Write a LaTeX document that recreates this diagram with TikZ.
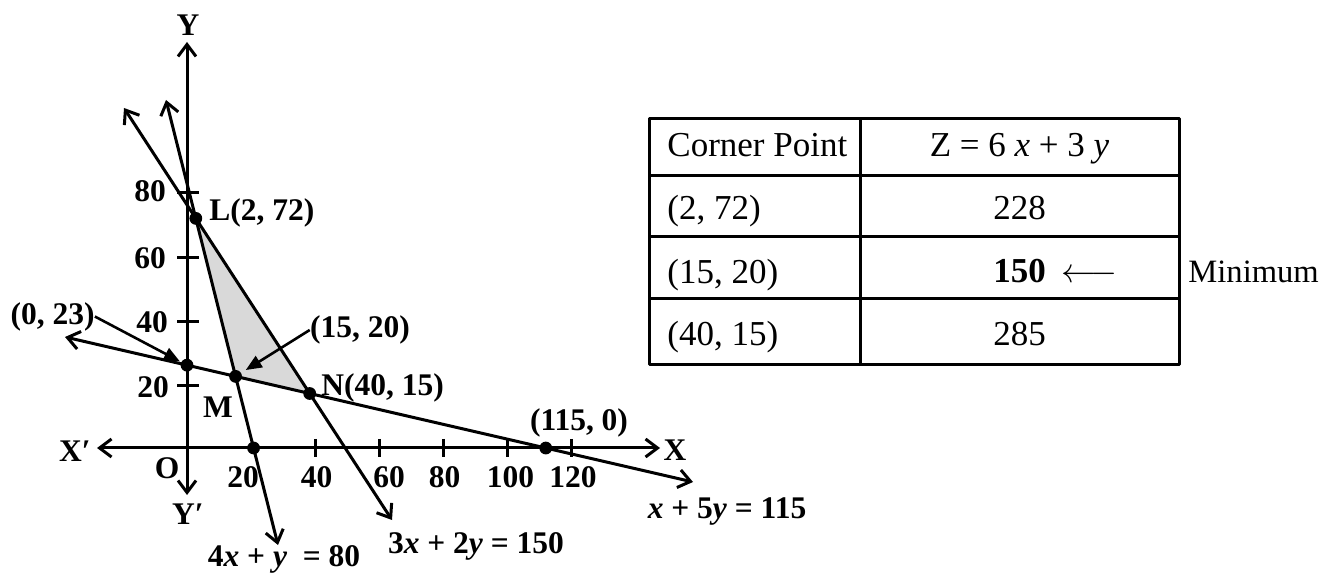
\documentclass[tikz,border=0pt]{standalone}
\usepackage{fontspec}
\setmainfont{Liberation Serif}
\usetikzlibrary{arrows.meta}

\begin{document}
\begin{tikzpicture}[x=0.5pt,y=-0.5pt,line join=round,
  ln/.style={line width=1.5pt},
  twoway/.style={ln,{Straight Barb[length=6pt,width=9pt]}-{Straight Barb[length=6pt,width=9pt]}},
  ptr/.style={line width=1.3pt,-{Triangle[length=8pt,width=6.5pt]}},
  lbl/.style={font=\fontsize{15.75}{18}\selectfont\bfseries,inner sep=0pt},
  cell/.style={font=\fontsize{17.5}{21}\selectfont,inner sep=0pt}]
  \useasboundingbox (0,0) rectangle (1326,576);
  % axes and the three boundary lines
  \coordinate (O) at (187,448);
  \coordinate (XL) at (97,448);
  \coordinate (XR) at (660,448);
  \coordinate (YB) at (187,495);
  \coordinate (YT) at (187,42);
  \coordinate (E1a) at (166,100);
  \coordinate (E1b) at (278,545);
  \coordinate (E2a) at (124,108);
  \coordinate (E2b) at (392,520);
  \coordinate (E3a) at (65,337);
  \coordinate (E3b) at (693,482);
  \coordinate (L) at (intersection of E1a--E1b and E2a--E2b);
  \coordinate (M) at (intersection of E1a--E1b and E3a--E3b);
  \coordinate (N) at (intersection of E2a--E2b and E3a--E3b);
  \coordinate (YCUT) at (intersection of E3a--E3b and YB--YT);
  \coordinate (XCUT1) at (intersection of E1a--E1b and XL--XR);
  \coordinate (XCUT3) at (intersection of E3a--E3b and XL--XR);
  \fill[gray!30] (L) -- (M) -- (N) -- cycle;
  \draw[twoway] (XL) -- (XR);
  \draw[twoway] (YB) -- (YT);
  \draw[twoway] (E1a) -- (E1b);
  \draw[twoway] (E2a) -- (E2b);
  \draw[twoway] (E3a) -- (E3b);
  \draw[ln] (315,439) -- (315,457);
  \draw[ln] (379,439) -- (379,457);
  \draw[ln] (443,439) -- (443,457);
  \draw[ln] (507,439) -- (507,457);
  \draw[ln] (571,439) -- (571,457);
  \draw[ln] (177,386) -- (199,386);
  \draw[ln] (177,322) -- (199,322);
  \draw[ln] (177,258) -- (199,258);
  \draw[ln] (177,193) -- (199,193);
  \fill (L) circle (3.2pt);
  \fill (M) circle (3.2pt);
  \fill (N) circle (3.2pt);
  \fill (YCUT) circle (3.2pt);
  \fill (XCUT1) circle (3.2pt);
  \fill (XCUT3) circle (3.2pt);
  % axis labels
  \node[lbl] (LY) at (188,25) {Y};
  \node[lbl] (LY2) at (188,514) {Y′};
  \node[lbl] (LX2) at (75,451) {X′};
  \node[lbl] (LX) at (675,450) {X};
  \node[lbl] (LO) at (167,468) {O};
  \node[lbl] (TX20) at (243,477.5) {20};
  \node[lbl] (TX40) at (316.5,477.5) {40};
  \node[lbl] (TX60) at (389,477.5) {60};
  \node[lbl] (TX80) at (444.5,477.5) {80};
  \node[lbl] (TX100) at (510.5,477.5) {100};
  \node[lbl] (TX120) at (573,477.5) {120};
  \node[lbl] (TY80) at (150,191.5) {80};
  \node[lbl] (TY60) at (150,258) {60};
  \node[lbl] (TY40) at (152,322) {40};
  \node[lbl] (TY20) at (153,387.5) {20};
  % corner points
  \node[lbl,anchor=west] (LL) at (209,213) {L(2, 72)};
  \node[lbl,anchor=west] (LN) at (321,388) {N(40, 15)};
  \node[lbl] (LM) at (218,407) {M};
  \node[lbl] (L023) at (52.5,316.5) {(0, 23)};
  \node[lbl] (L1520) at (360,330) {(15, 20)};
  \node[lbl] (L1150) at (579,422.5) {(115, 0)};
  \draw[ptr,shorten >=4pt] (L023.east) -- (YCUT);
  \draw[ptr,shorten >=6pt] (L1520.west) -- (M);
  % equations of the lines
  \node[lbl,anchor=base] (Q1) at (284,566) {4\textit{x} + \textit{y}\enspace = 80};
  \node[lbl,anchor=base] (Q2) at (476,553) {3\textit{x} + 2\textit{y} = 150};
  \node[lbl,anchor=base] (Q3) at (727,518) {\textit{x} + 5\textit{y} = 115};
  % table of corner points
  \draw[ln] (649,119) rectangle (1179,365);
  \draw[ln] (649,176) -- (1179,176);
  \draw[ln] (649,237) -- (1179,237);
  \draw[ln] (649,299) -- (1179,299);
  \draw[ln] (860,119) -- (860,365);
  \node[cell,anchor=base west] (H1) at (667,157) {Corner Point};
  \node[cell,anchor=base] (H2) at (1019.5,157) {Z = 6 \textit{x} + 3 \textit{y}};
  \node[cell,anchor=base west] (C1) at (667,220) {(2, 72)};
  \node[cell,anchor=base west] (C2) at (667,284) {(15, 20)};
  \node[cell,anchor=base west] (C3) at (667,346) {(40, 15)};
  \node[cell,anchor=base] (V1) at (1019.5,220) {228};
  \node[cell,anchor=base,font=\fontsize{17.5}{21}\selectfont\bfseries] (V2) at (1019.5,283) {150};
  \node[cell,anchor=base] (V3) at (1019.5,346) {285};
  \node[cell,anchor=base west] (ARR) at (1061,283) {$\longleftarrow$};
  \node[cell,anchor=base west,font=\fontsize{16.3}{20}\selectfont] (MIN) at (1188,283) {Minimum};
\end{tikzpicture}
\end{document}
